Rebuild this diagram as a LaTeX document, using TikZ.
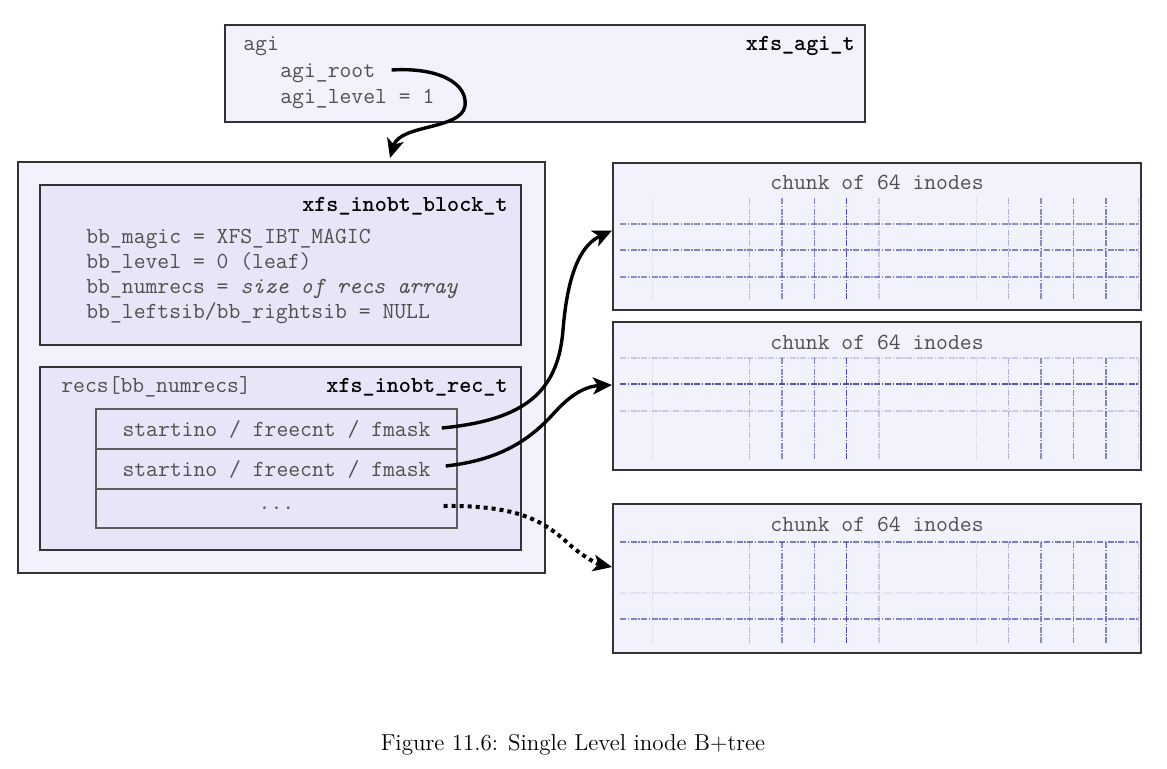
\documentclass[tikz,border=0pt]{standalone}
\usepackage{fontspec}
\usetikzlibrary{arrows.meta,calc}
\definecolor{boxfill}{HTML}{F2F2FC}
\definecolor{innerfill}{HTML}{E6E6F8}
\definecolor{edge}{HTML}{333333}
\definecolor{txt}{HTML}{505050}
\definecolor{gridc}{HTML}{3A3AA0}
\begin{document}
\begin{tikzpicture}[x=0.5pt,y=-0.5pt,
  box/.style={draw=edge, line width=1pt, fill=boxfill, inner sep=0pt},
  inbox/.style={draw=edge, line width=1pt, fill=innerfill, inner sep=0pt, minimum width=240.5pt},
  rowbox/.style={draw=edge!80, line width=0.7pt, fill=innerfill, inner sep=0pt, minimum width=180.5pt,
                 font=\ttfamily\fontsize{11.5}{13}\selectfont, text=txt},
  chunkbox/.style={box, minimum width=264pt},
  mono/.style={font=\ttfamily\fontsize{11.5}{13}\selectfont, text=txt, inner sep=0pt},
  lbl/.style={mono, anchor=base west},
  ttl/.style={font=\ttfamily\bfseries\fontsize{11.5}{13}\selectfont, text=black, inner sep=0pt, anchor=base east},
  link/.style={line width=1.7pt, -{Stealth[length=9.5pt,width=8.5pt,inset=2.5pt]}},
  dotlink/.style={line width=2pt, dash pattern=on 2pt off 2pt, -{Stealth[length=9.5pt,width=8.5pt,inset=2.5pt,line width=0pt]}},
  gl/.style={gridc, line width=0.75pt, dash pattern=on 3pt off 0.8pt on 0.7pt off 0.8pt}
]
\useasboundingbox[fill=white] (0,0) rectangle (1167,768);

% agi header
\node[box, minimum width=320pt, minimum height=48.5pt] (agi) at (545,73.5) {};
\node[lbl] (aginame) at (243,50) {agi};
\node[ttl] (agitype) at (855,50) {xfs\_agi\_t};
\node[lbl] (root) at (280,77) {agi\_root};
\node[lbl] (level) at (280,103) {agi\_level = 1};

% inobt block
\node[box, minimum width=263.5pt, minimum height=205.5pt] (blk) at (281.5,367.5) {};
\node[inbox, minimum height=80pt] (hdr) at (280.5,265) {};
\node[ttl] (hdrtype) at (508,211) {xfs\_inobt\_block\_t};
\node[lbl] (magic) at (86,243) {bb\_magic = XFS\_IBT\_MAGIC};
\node[lbl] (lev) at (86,268) {bb\_level = 0 (leaf)};
\node[lbl] (nrec) at (86,293) {bb\_numrecs = \textit{size of recs array}};
\node[lbl] (sib) at (86,318) {bb\_leftsib/bb\_rightsib = NULL};

\node[inbox, minimum height=91.5pt] (recs) at (280.5,458.5) {};
\node[lbl] (recsname) at (61,392) {recs[bb\_numrecs]};
\node[ttl] (recstype) at (508,392) {xfs\_inobt\_rec\_t};
\node[rowbox, minimum height=20pt] (r1) at (276.5,429) {startino / freecnt / fmask};
\node[rowbox, minimum height=20pt] (r2) at (276.5,469) {startino / freecnt / fmask};
\node[rowbox, minimum height=19.5pt] (r3) at (276.5,508.5) {...};

% chunks
\node[chunkbox, minimum height=73.5pt] (c1) at (877,236.5) {};
\node[chunkbox, minimum height=74pt] (c2) at (877,396) {};
\node[chunkbox, minimum height=74.5pt] (c3) at (877,578.5) {};
\node[mono, anchor=base] (t1) at (877,189) {chunk of 64 inodes};
\node[mono, anchor=base] (t2) at (877,349) {chunk of 64 inodes};
\node[mono, anchor=base] (t3) at (877,531) {chunk of 64 inodes};

% grids
\foreach \v in {198,358,542}{
  \foreach \k/\o in {0/0.1,3/0.3,4/0.55,5/0.6,6/0.9,7/0.22,10/0.12,11/0.35,12/0.55,13/0.55,14/0.6,15/0.25}
    \draw[gl, draw opacity=\o] (652.3+32.4*\k,\v) -- (652.3+32.4*\k,\v+101);
}
\foreach \h/\o in {224/0.55,250/0.6,277/0.55, 358/0.22,384/0.85,411/0.22, 542/0.65,593/0.1,619/0.6}
  \draw[gl, draw opacity=\o] (620,\h) -- (1138,\h);

% connectors
\coordinate (a0) at ($(root.base east)+(16,-7)$);
\coordinate (a1) at ($(blk.north)+(108.5,-3)$);
\draw[link] (a0) .. controls (440,67) and (468,84) .. (465,106)
               .. controls (461,130) and (400,124) .. (a1);

\coordinate (s1) at ($(r1.east)+(-16,-1)$);
\coordinate (e1) at ($(c1.west)+(0,-6)$);
\draw[link] (s1) .. controls (525,420) and (558,392) .. (563,330)
               .. controls (568,268) and (583,244) .. (e1);

\coordinate (s2) at ($(r2.east)+(-12,-3)$);
\coordinate (e2) at ($(c2.west)+(0,-11)$);
\draw[link] (s2) .. controls (500,460) and (530,440) .. (555,412)
               .. controls (575,390) and (590,386) .. (e2);

\coordinate (s3) at ($(r3.east)+(-14,-2.5)$);
\coordinate (e3) at ($(c3.west)+(0,-11.5)$);
\draw[dotlink] (s3) .. controls (520,505) and (545,522) .. (570,545)
                  .. controls (585,558) and (598,564) .. (e3);

% caption
\node[font=\fontsize{11.5}{13}\selectfont] (cap) at (573,745) {Figure 11.6: Single Level inode B+tree};
\end{tikzpicture}
\end{document}
